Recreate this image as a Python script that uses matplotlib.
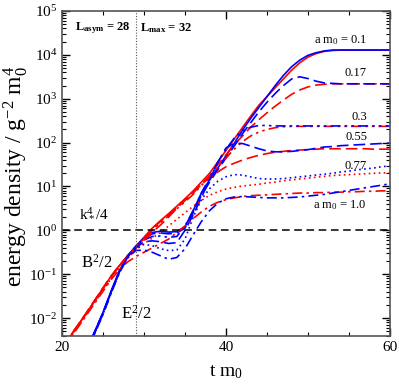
import numpy as np
import matplotlib
matplotlib.use("Agg")
import matplotlib.pyplot as plt
from matplotlib.ticker import LogLocator, NullFormatter, MultipleLocator, FixedLocator

plt.rcParams['font.family'] = ['Liberation Serif', 'DejaVu Serif']
plt.rcParams['mathtext.fontset'] = 'custom'
plt.rcParams['mathtext.rm'] = 'Liberation Serif'
plt.rcParams['mathtext.it'] = 'Liberation Serif:italic'
plt.rcParams['mathtext.bf'] = 'Liberation Serif:bold'

# time axis t m0
t_m0 = list(range(20, 61))

# log10 of energy density, B^2/2 (red) per lattice spacing a m0
B_01 = [-2.62,-2.42,-2.15,-1.88,-1.6,-1.32,-1.04,-0.8,-0.58,-0.38,-0.16,0.05,0.22,0.38,0.55,0.72,0.9,1.1,1.3,1.56,1.82,2.08,2.34,2.6,2.85,3.05,3.25,3.45,3.65,3.82,3.95,4.03,4.08,4.1,4.11,4.11,4.11,4.11,4.11,4.11,4.11]
B_017 = [-2.6,-2.4,-2.14,-1.87,-1.59,-1.31,-1.04,-0.8,-0.58,-0.38,-0.17,0.03,0.2,0.36,0.52,0.68,0.85,1.05,1.25,1.5,1.72,1.95,2.15,2.35,2.52,2.68,2.83,2.97,3.1,3.2,3.27,3.31,3.33,3.34,3.34,3.34,3.34,3.34,3.34,3.34,3.34]
B_03 = [-2.62,-2.41,-2.15,-1.88,-1.6,-1.32,-1.05,-0.81,-0.59,-0.39,-0.19,0.0,0.17,0.33,0.49,0.65,0.82,1.02,1.22,1.45,1.65,1.85,2.02,2.15,2.24,2.3,2.34,2.36,2.37,2.37,2.37,2.37,2.37,2.37,2.37,2.37,2.37,2.37,2.37,2.37,2.37]
B_055 = [-2.63,-2.43,-2.16,-1.89,-1.61,-1.33,-1.06,-0.82,-0.6,-0.41,-0.22,-0.05,0.12,0.3,0.5,0.7,0.88,1.05,1.2,1.33,1.45,1.53,1.6,1.66,1.71,1.75,1.78,1.8,1.82,1.83,1.84,1.85,1.86,1.86,1.86,1.86,1.86,1.86,1.85,1.85,1.85]
B_077 = [-2.65,-2.45,-2.18,-1.91,-1.64,-1.37,-1.1,-0.85,-0.63,-0.45,-0.3,-0.18,-0.05,0.1,0.25,0.4,0.55,0.68,0.8,0.88,0.94,0.98,1.01,1.03,1.05,1.08,1.1,1.13,1.15,1.17,1.19,1.21,1.23,1.25,1.26,1.27,1.28,1.29,1.3,1.31,1.31]
B_10 = [-2.66,-2.46,-2.2,-1.93,-1.66,-1.39,-1.12,-0.9,-0.72,-0.6,-0.5,-0.4,-0.3,-0.2,-0.05,0.1,0.27,0.42,0.55,0.64,0.7,0.74,0.77,0.79,0.8,0.81,0.82,0.83,0.84,0.85,0.85,0.86,0.86,0.87,0.87,0.88,0.88,0.89,0.89,0.9,0.9]

# log10 of energy density, E^2/2 (blue)
E_01 = [-4.0,-3.6,-3.15,-2.72,-2.3,-1.87,-1.38,-0.92,-0.58,-0.36,-0.17,-0.05,-0.02,-0.04,-0.03,0.08,0.45,0.85,1.15,1.42,1.7,1.98,2.28,2.55,2.8,3.05,3.3,3.53,3.73,3.88,3.99,4.05,4.09,4.11,4.11,4.11,4.11,4.11,4.11,4.11,4.11]
E_017 = [-4.02,-3.62,-3.17,-2.73,-2.31,-1.88,-1.39,-0.93,-0.59,-0.37,-0.19,-0.08,-0.06,-0.08,-0.06,0.05,0.4,0.8,1.1,1.38,1.65,1.92,2.2,2.45,2.7,2.92,3.12,3.3,3.45,3.5,3.46,3.4,3.36,3.35,3.34,3.34,3.34,3.34,3.34,3.34,3.34]
E_03 = [-4.03,-3.63,-3.18,-2.74,-2.32,-1.89,-1.4,-0.94,-0.6,-0.38,-0.22,-0.14,-0.13,-0.16,-0.14,0.1,0.45,0.85,1.2,1.55,1.85,2.1,2.27,2.35,2.39,2.39,2.38,2.38,2.38,2.38,2.38,2.38,2.38,2.38,2.38,2.38,2.38,2.38,2.38,2.38,2.38]
E_055 = [-4.04,-3.64,-3.19,-2.75,-2.33,-1.9,-1.41,-0.95,-0.61,-0.4,-0.26,-0.24,-0.26,-0.3,-0.28,0.0,0.35,0.75,1.15,1.55,1.88,1.98,1.98,1.92,1.86,1.81,1.79,1.79,1.8,1.82,1.84,1.87,1.9,1.91,1.93,1.94,1.95,1.96,1.97,1.98,1.99]
E_077 = [-4.05,-3.65,-3.2,-2.76,-2.34,-1.91,-1.42,-0.96,-0.62,-0.42,-0.32,-0.35,-0.42,-0.46,-0.45,-0.2,0.3,0.7,0.95,1.12,1.22,1.27,1.26,1.22,1.18,1.17,1.17,1.18,1.2,1.22,1.24,1.26,1.28,1.3,1.33,1.35,1.38,1.4,1.42,1.45,1.47]
E_10 = [-4.06,-3.66,-3.21,-2.77,-2.35,-1.92,-1.43,-0.97,-0.63,-0.46,-0.45,-0.5,-0.58,-0.66,-0.62,-0.42,-0.1,0.2,0.45,0.62,0.72,0.76,0.77,0.76,0.75,0.74,0.74,0.74,0.75,0.76,0.78,0.8,0.82,0.85,0.88,0.91,0.94,0.97,1.0,1.03,1.06]

a_labels = ["a m$_0$ = 0.1", "0.17", "0.3", "0.55", "0.77", "a m$_0$ = 1.0"]
B_series = [B_01, B_017, B_03, B_055, B_077, B_10]
E_series = [E_01, E_017, E_03, E_055, E_077, E_10]
styles = ['-', (0, (7, 3)), (0, (6, 2.5, 1.5, 2.5, 1.5, 2.5)), (0, (7, 3)), (0, (1, 2)), (0, (6, 2.5, 1.5, 2.5))]

fig = plt.figure(figsize=(3.99, 3.85), dpi=100)
ax = fig.add_axes([0.1554, 0.1273, 0.8220, 0.8441])

t = np.array(t_m0)
for b, e, ls in zip(B_series, E_series, styles):
    ax.plot(t, 10 ** np.array(b), color='#ff0000', ls=ls, lw=1.2)
    ax.plot(t, 10 ** np.array(e), color='#0000ff', ls=ls, lw=1.2)

ax.axhline(1.0, color='black', ls=(0, (5, 3)), lw=1.1)
ax.axvline(29.0, color='#555555', ls=(0, (1, 1.5)), lw=0.8)

ax.set_yscale('log')
ax.set_xlim(20, 60)
ax.set_ylim(3.9e-3, 1e5)

ax.xaxis.set_major_locator(FixedLocator([20, 40, 60]))
ax.xaxis.set_minor_locator(MultipleLocator(5))
ax.yaxis.set_major_locator(LogLocator(base=10, numticks=20))
ax.yaxis.set_minor_locator(LogLocator(base=10, subs=np.arange(2, 10), numticks=20))
ax.yaxis.set_minor_formatter(NullFormatter())
ax.tick_params(which='both', direction='in', top=True, right=True, labelsize=11)
ax.tick_params(which='major', length=6, width=1.0)
ax.tick_params(which='minor', length=3, width=0.8)
for s in ax.spines.values():
    s.set_linewidth(1.2)
    s.set_color('#555555')

ax.set_xlabel('t m$_0$', fontsize=14)
ax.xaxis.set_label_coords(0.5, -0.083)
ax.set_ylabel('energy density / g$^{-2}$ m$_0^4$', fontsize=17)
ax.yaxis.set_label_coords(-0.098, 0.49)

ax.text(21.6, 10 ** 4.6, r'L$_{\mathbf{asym}}$ = 28', fontsize=9, fontweight='bold', va='center', ha='left')
ax.text(29.5, 10 ** 4.6, r'L$_{\mathbf{max}}$ = 32', fontsize=9, fontweight='bold', va='center', ha='left')
ax.text(22.1, 10 ** 0.39, 'k$_*^4$/4', fontsize=11, va='center', ha='left')
ax.text(22.3, 10 ** -0.73, 'B$^2$/2', fontsize=12, va='center', ha='left')
ax.text(27.2, 10 ** -1.9, 'E$^2$/2', fontsize=12, va='center', ha='left')

label_pos = [(57.2, 4.34), (57.2, 3.58), (57.2, 2.58), (57.2, 2.12), (57.2, 1.46), (57.2, 0.58)]
for lab, (x, ly) in zip(a_labels, label_pos):
    ax.text(x, 10 ** ly, lab, fontsize=9, va='center', ha='right')

fig.savefig('out.png', dpi=100)
